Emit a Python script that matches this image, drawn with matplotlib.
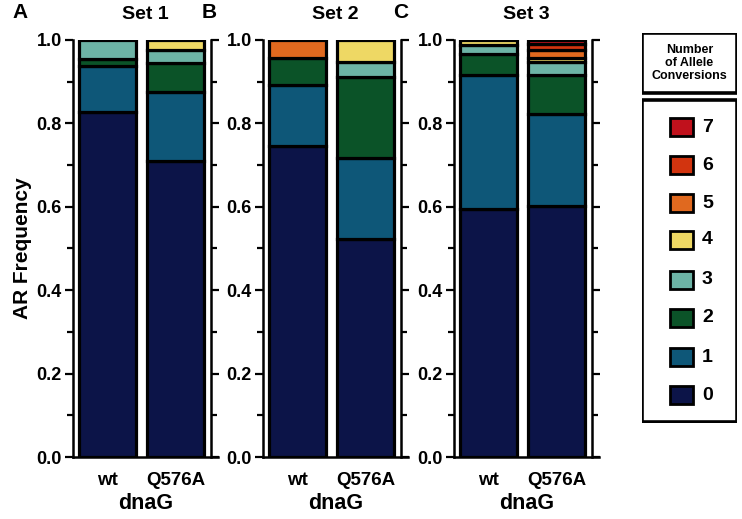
import numpy as np
import matplotlib.pyplot as plt
from matplotlib.patches import Rectangle
from matplotlib.ticker import MultipleLocator

plt.rcParams['font.family'] = ['Liberation Sans', 'DejaVu Sans']
plt.rcParams['font.weight'] = 'bold'

# ---------------------- data ----------------------
strains = ["wt", "Q576A"]
set_titles = ["Set 1", "Set 2", "Set 3"]
panel_letters = ["A", "B", "C"]
conversions = ["0", "1", "2", "3", "4", "5", "6", "7"]
colors = ["#0c1448", "#0e5778", "#0b5328", "#6db4a6", "#eed864", "#e0691f", "#d2340f", "#c0111c"]

# frequency of each conversion count (0..7), per strain
set1_wt = [0.828, 0.110, 0.017, 0.045, 0.0, 0.0, 0.0, 0.0]
set1_q = [0.710, 0.165, 0.070, 0.030, 0.025, 0.0, 0.0, 0.0]
set2_wt = [0.745, 0.148, 0.065, 0.0, 0.0, 0.042, 0.0, 0.0]
set2_q = [0.522, 0.195, 0.195, 0.035, 0.053, 0.0, 0.0, 0.0]
set3_wt = [0.595, 0.322, 0.050, 0.020, 0.013, 0.0, 0.0, 0.0]
set3_q = [0.603, 0.220, 0.093, 0.032, 0.010, 0.018, 0.014, 0.010]

sets = [[set1_wt, set1_q], [set2_wt, set2_q], [set3_wt, set3_q]]

# ---------------------- figure ----------------------
fig = plt.figure(figsize=(7.42, 5.19), dpi=100)
lefts = [73 / 742, 263 / 742, 454 / 742]
ax_w, ax_b, ax_h = 145 / 742, 62 / 519, 417 / 519

for i, (left, data) in enumerate(zip(lefts, sets)):
    ax = fig.add_axes([left, ax_b, ax_w, ax_h])
    # 右侧竖线放在第二根柱子右边（先设位置，否则会重置刻度样式）
    ax.spines["right"].set_position(("data", 1.52))
    ax.spines["top"].set_visible(False)
    x = np.arange(len(strains))
    for j, vals in enumerate(data):
        bottom = 0.0
        for k, v in enumerate(vals):
            if v > 0:
                ax.bar(x[j], v, bottom=bottom, width=0.84, color=colors[k],
                       edgecolor="black", linewidth=2.3)
            bottom += v
    ax.set_xlim(-0.51, 1.62)
    ax.set_ylim(0, 1.0)
    ax.yaxis.set_minor_locator(MultipleLocator(0.1))
    ax.set_yticks([0, 0.2, 0.4, 0.6, 0.8, 1.0])
    ax.set_yticklabels(["0.0", "0.2", "0.4", "0.6", "0.8", "1.0"], fontsize=13, fontweight="bold")
    ax.set_xticks(x)
    ax.set_xticklabels(strains, fontsize=13.5, fontweight="bold")
    ax.tick_params(axis="x", length=0, pad=11)
    ax.tick_params(axis="y", which="major", width=1.6, length=6, pad=2, right=True)
    ax.tick_params(axis="y", which="minor", width=1.6, length=4, right=True)
    for s in ["left", "bottom", "right"]:
        ax.spines[s].set_linewidth(1.8)
    ax.set_xlabel("dnaG", fontsize=15.5, fontweight="bold", labelpad=3)
    ax.set_title(set_titles[i], fontsize=14, fontweight="bold", pad=15)
    ax.text(-0.42, 1.043, panel_letters[i], transform=ax.transAxes,
            fontsize=15, fontweight="bold", va="bottom")
    if i == 0:
        ax.set_ylabel("AR Frequency", fontsize=15, fontweight="bold", labelpad=3)

# ---------------------- legend ----------------------
lax = fig.add_axes([642 / 742, 1 - 423 / 519, 95 / 742, 390 / 519])
lax.set_xlim(0, 95)
lax.set_ylim(390, 0)
lax.axis("off")
lax.add_patch(Rectangle((0, 0), 95, 60, fill=False, lw=2.6, edgecolor="black"))
lax.add_patch(Rectangle((0, 67), 95, 322, fill=False, lw=2.6, edgecolor="black"))
lax.text(47.5, 30, "Number\nof Allele\nConversions", ha="center", va="center",
         fontsize=9, fontweight="bold", linespacing=1.1)
item_y = [362, 324, 285, 247, 207, 170, 132, 94]
for k in range(len(conversions)):
    lax.add_patch(Rectangle((28, item_y[k] - 9), 23, 18, facecolor=colors[k],
                            edgecolor="black", lw=2.0))
    lax.text(60, item_y[k], conversions[k], ha="left", va="center",
             fontsize=14, fontweight="bold")

plt.savefig("out.png", dpi=100)
